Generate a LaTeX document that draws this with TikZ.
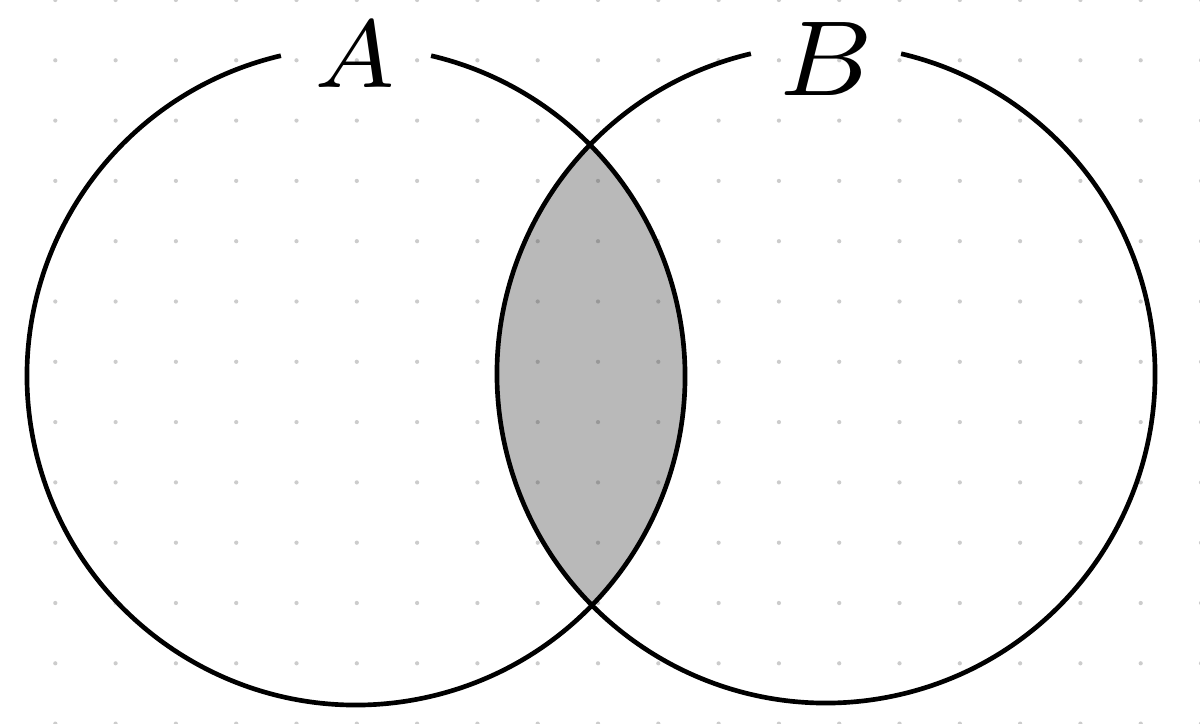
\documentclass[tikz,border=0pt]{standalone}
\usepackage{graphicx}
\definecolor{lensgray}{RGB}{185,185,185}
\definecolor{dotc}{RGB}{58,58,58}
\tikzset{
  ring/.style={draw=black, line width=2.2pt},
  griddot/.style={fill=dotc, opacity=0.26},
  lbl/.style={inner sep=0pt, anchor=base, text=black}
}
\begin{document}
\begin{tikzpicture}[x=0.016583cm,y=0.016583cm]
\useasboundingbox (0,0) rectangle (1200,723);
\fill[white] (0,0) rectangle (1200,723);
\coordinate (ca) at (356,347);
\coordinate (cb) at (826,349);
\begin{scope}
  \clip (ca) circle[radius=329];
  \fill[lensgray] (cb) circle[radius=329];
\end{scope}
\foreach \i in {-1,...,19} {
  \foreach \j in {0,...,12} {
    \fill[griddot] (55.3+60.3*\i, 723-60.3*\j) circle[radius=2.1];
  }
}
\draw[ring] ([shift={(103.2:329)}]ca) arc[start angle=103.2, end angle=436.8, radius=329];
\draw[ring] ([shift={(103.2:329)}]cb) arc[start angle=103.2, end angle=436.8, radius=329];
\node[lbl] (la) at (355,635) {\scalebox{6.5}{$\scriptstyle A$}};
\node[lbl] (lb) at (826,627) {\scalebox{7.2}{$\scriptstyle B$}};
\end{tikzpicture}
\end{document}
